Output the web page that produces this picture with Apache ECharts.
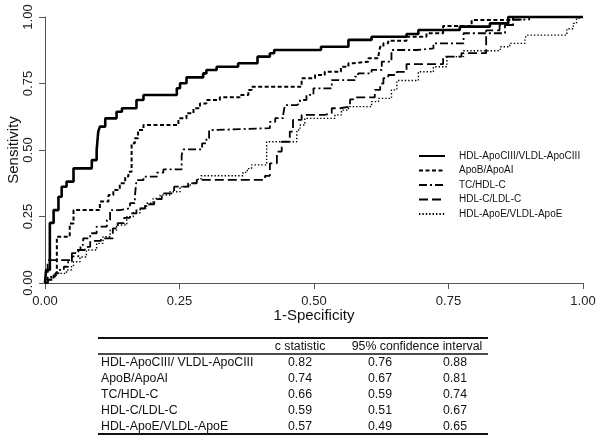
<!DOCTYPE html>
<html>
<head>
<meta charset="utf-8">
<script src="https://cdn.jsdelivr.net/npm/echarts@6/dist/echarts.min.js"></script>
<style>
html,body{margin:0;padding:0;background:#fff;}
#chart{width:600px;height:444px;}
</style>
</head>
<body>
<div id="chart"></div>
<script>
// ---- Data ----
const seriesNames = ["HDL-ApoCIII/VLDL-ApoCIII", "ApoB/ApoAI", "TC/HDL-C", "HDL-C/LDL-C", "HDL-ApoE/VLDL-ApoE"];
// each point: [1-specificity where the step happens, sensitivity after the step]
const rocApoCIII = [[0,0],[0.002,0.049],[0.009,0.226],[0.016,0.274],[0.025,0.324],[0.031,0.362],[0.04,0.381],[0.053,0.431],[0.087,0.462],[0.096,0.5],[0.099,0.569],[0.102,0.588],[0.112,0.619],[0.133,0.644],[0.143,0.657],[0.17,0.688],[0.183,0.707],[0.245,0.732],[0.251,0.751],[0.263,0.773],[0.294,0.788],[0.3,0.801],[0.319,0.813],[0.359,0.826],[0.395,0.851],[0.418,0.864],[0.426,0.876],[0.513,0.888],[0.564,0.914],[0.607,0.926],[0.672,0.936],[0.694,0.951],[0.771,0.964],[0.827,0.976],[0.861,1],[1,1]];
const rocApoB = [[0,0],[0.005,0.012],[0.016,0.036],[0.022,0.174],[0.046,0.224],[0.053,0.274],[0.102,0.306],[0.118,0.331],[0.127,0.35],[0.139,0.375],[0.149,0.4],[0.155,0.418],[0.161,0.525],[0.167,0.544],[0.173,0.575],[0.183,0.594],[0.248,0.619],[0.263,0.638],[0.276,0.657],[0.288,0.675],[0.3,0.688],[0.325,0.698],[0.362,0.707],[0.378,0.726],[0.384,0.738],[0.477,0.77],[0.502,0.782],[0.52,0.794],[0.55,0.813],[0.564,0.826],[0.573,0.832],[0.601,0.845],[0.62,0.857],[0.623,0.888],[0.629,0.901],[0.638,0.911],[0.672,0.926],[0.709,0.939],[0.74,0.966],[0.793,0.989],[0.87,1],[1,1]];
const rocTC = [[0,0],[0.005,0.012],[0.012,0.024],[0.019,0.036],[0.025,0.049],[0.035,0.061],[0.043,0.08],[0.05,0.1],[0.062,0.124],[0.066,0.143],[0.071,0.168],[0.084,0.187],[0.096,0.212],[0.115,0.237],[0.121,0.274],[0.139,0.281],[0.158,0.3],[0.167,0.324],[0.17,0.387],[0.183,0.4],[0.208,0.415],[0.22,0.427],[0.254,0.481],[0.257,0.502],[0.292,0.525],[0.3,0.544],[0.305,0.575],[0.31,0.582],[0.418,0.606],[0.428,0.62],[0.443,0.637],[0.446,0.669],[0.468,0.675],[0.474,0.688],[0.486,0.707],[0.499,0.732],[0.533,0.763],[0.576,0.776],[0.582,0.788],[0.607,0.801],[0.626,0.832],[0.644,0.876],[0.691,0.882],[0.722,0.901],[0.778,0.939],[0.855,0.97],[0.87,0.99],[0.9,1],[1,1]];
const rocHDLC = [[0,0],[0.005,0.086],[0.05,0.112],[0.059,0.124],[0.074,0.136],[0.084,0.158],[0.104,0.168],[0.126,0.205],[0.135,0.225],[0.147,0.245],[0.158,0.262],[0.17,0.28],[0.186,0.296],[0.203,0.315],[0.217,0.337],[0.24,0.362],[0.266,0.375],[0.282,0.388],[0.409,0.403],[0.418,0.45],[0.431,0.494],[0.44,0.531],[0.455,0.569],[0.461,0.613],[0.477,0.632],[0.52,0.638],[0.533,0.657],[0.548,0.663],[0.567,0.69],[0.573,0.698],[0.613,0.726],[0.623,0.75],[0.629,0.77],[0.638,0.782],[0.654,0.794],[0.672,0.823],[0.74,0.851],[0.774,0.864],[0.82,0.95],[0.845,0.97],[0.87,0.99],[0.89,1],[1,1]];
const rocApoE = [[0,0],[0.003,0.012],[0.009,0.024],[0.021,0.036],[0.04,0.049],[0.049,0.061],[0.053,0.08],[0.065,0.098],[0.077,0.124],[0.096,0.149],[0.108,0.174],[0.121,0.199],[0.133,0.218],[0.152,0.249],[0.164,0.264],[0.177,0.281],[0.189,0.3],[0.201,0.318],[0.214,0.331],[0.232,0.343],[0.251,0.362],[0.27,0.375],[0.282,0.39],[0.29,0.403],[0.368,0.416],[0.376,0.43],[0.384,0.444],[0.412,0.531],[0.468,0.575],[0.474,0.594],[0.483,0.619],[0.539,0.632],[0.551,0.65],[0.564,0.663],[0.607,0.682],[0.62,0.694],[0.644,0.726],[0.654,0.761],[0.694,0.794],[0.722,0.813],[0.747,0.851],[0.778,0.873],[0.846,0.888],[0.864,0.901],[0.892,0.92],[0.895,0.932],[0.97,0.956],[0.982,0.976],[0.988,0.995],[0.992,1],[1,1]];
const xTicks = [0, 0.25, 0.5, 0.75, 1];
const yTicks = [0, 0.25, 0.5, 0.75, 1];
// table
const tableHeader = ["", "c statistic", "95% confidence interval"];
const tableLabels = ["HDL-ApoCIII/ VLDL-ApoCIII", "ApoB/ApoAI", "TC/HDL-C", "HDL-C/LDL-C", "HDL-ApoE/VLDL-ApoE"];
const cStat = ["0.82", "0.74", "0.66", "0.59", "0.57"];
const ciLow = ["0.76", "0.67", "0.59", "0.51", "0.49"];
const ciHigh = ["0.88", "0.81", "0.74", "0.67", "0.65"];

// ---- Styles ----
const FONT = "Liberation Sans, Arial, sans-serif";
const lineStyles = [
  {width: 2.6, type: 'solid'},
  {width: 2, type: [4, 2.5]},
  {width: 1.8, type: [8, 3, 2, 3]},
  {width: 1.8, type: [9, 4]},
  {width: 1.4, type: [1.4, 2]}
];
const rocData = [rocApoCIII, rocApoB, rocTC, rocHDLC, rocApoE];

const chart = echarts.init(document.getElementById('chart'), null, {renderer: 'canvas'});

// table graphic
const tbl = [];
const tLeft = 98, tRight = 488;
const colC = 300, colLo = 380, colHi = 455, colLabel = 101;
const tFont = '12.3px ' + FONT;
tbl.push({type: 'line', shape: {x1: tLeft, y1: 338, x2: tRight, y2: 338}, style: {stroke: '#111', lineWidth: 1.8}});
tbl.push({type: 'line', shape: {x1: tLeft, y1: 354, x2: tRight, y2: 354}, style: {stroke: '#111', lineWidth: 1.3}});
tbl.push({type: 'line', shape: {x1: tLeft, y1: 434, x2: tRight, y2: 434}, style: {stroke: '#111', lineWidth: 1.8}});
tbl.push({type: 'text', x: colC, y: 347, style: {text: tableHeader[1], font: tFont, fill: '#111', align: 'center', verticalAlign: 'middle'}});
tbl.push({type: 'text', x: 417, y: 347, style: {text: tableHeader[2], font: tFont, fill: '#111', align: 'center', verticalAlign: 'middle'}});
tableLabels.forEach((lab, i) => {
  const y = 363 + i * 16;
  tbl.push({type: 'text', x: colLabel, y: y, style: {text: lab, font: tFont, fill: '#111', align: 'left', verticalAlign: 'middle'}});
  tbl.push({type: 'text', x: colC, y: y, style: {text: cStat[i], font: tFont, fill: '#111', align: 'center', verticalAlign: 'middle'}});
  tbl.push({type: 'text', x: colLo, y: y, style: {text: ciLow[i], font: tFont, fill: '#111', align: 'center', verticalAlign: 'middle'}});
  tbl.push({type: 'text', x: colHi, y: y, style: {text: ciHigh[i], font: tFont, fill: '#111', align: 'center', verticalAlign: 'middle'}});
});

const axisCommon = {
  type: 'value', min: 0, max: 1, interval: 0.25,
  splitLine: {show: false},
  axisLine: {show: true, lineStyle: {color: '#555', width: 1}},
  axisTick: {show: true, inside: false, length: 6, lineStyle: {color: '#555', width: 1}},
  nameTextStyle: {fontFamily: FONT, fontSize: 15, color: '#111'},
  nameMoveOverlap: false
};

chart.setOption({
  animation: false,
  backgroundColor: '#fff',
  grid: {left: 45, right: 17, top: 17, bottom: 161, containLabel: false, outerBoundsMode: 'none'},
  xAxis: Object.assign({}, axisCommon, {
    name: '1-Specificity', nameLocation: 'middle', nameGap: 25,
    axisLabel: {formatter: v => v.toFixed(2), fontFamily: FONT, fontSize: 13, color: '#222', margin: 12},
  }),
  yAxis: Object.assign({}, axisCommon, {
    name: 'Sensitivity', nameLocation: 'middle', nameGap: 24,
    axisLabel: {formatter: v => v.toFixed(2), fontFamily: FONT, fontSize: 13, color: '#222', margin: 10, rotate: 90},
  }),
  legend: {
    orient: 'vertical', left: 418, top: 151, padding: 0,
    itemWidth: 26, itemHeight: 10, itemGap: 4.5,
    data: seriesNames,
    itemStyle: {opacity: 0},
    textStyle: {fontFamily: FONT, fontSize: 10, color: '#111', padding: [0, 0, 0, 9]},
    selectedMode: false
  },
  graphic: tbl,
  series: seriesNames.map((n, i) => ({
    name: n, type: 'line', step: 'end', data: rocData[i],
    symbol: 'none', showSymbol: false, clip: false,
    lineStyle: Object.assign({color: '#000'}, lineStyles[i]),
    itemStyle: {color: '#000'},
    emphasis: {disabled: true}
  }))
});
</script>
</body>
</html>
